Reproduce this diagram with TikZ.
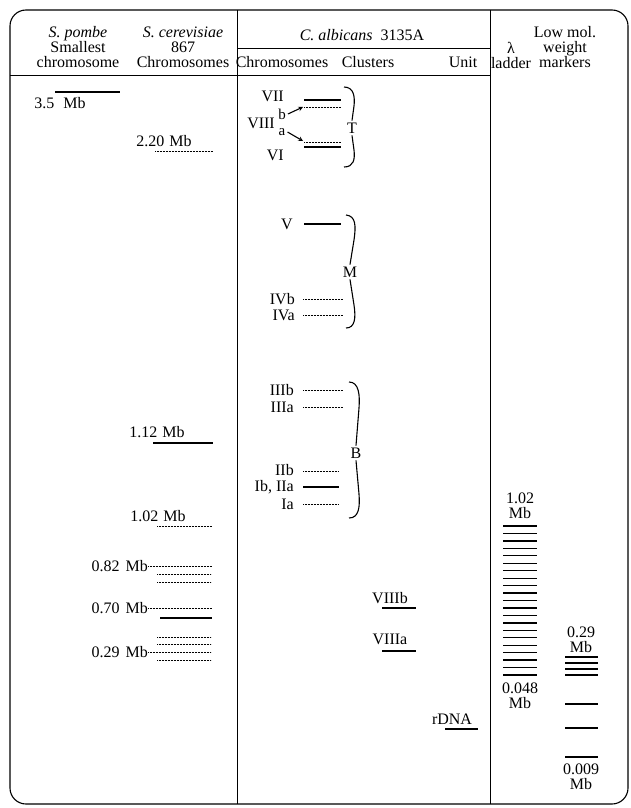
\documentclass[tikz,border=0pt]{standalone}
\usepackage{fontspec}
\setmainfont{Liberation Serif}
\usepackage{tikz}
\usetikzlibrary{arrows,positioning,calc}

\begin{document}
\begin{tikzpicture}[
        x=1pt, y=-1pt,
        lbl/.style={inner sep=0pt, font=\fontsize{16}{15}\selectfont},
        head/.style={lbl, align=center},
        small/.style={inner sep=0pt, font=\fontsize{15}{15}\selectfont},
        letter/.style={lbl, inner sep=2pt},
        frame/.style={draw=black, line width=1.1pt, rounded corners=16pt},
        rule/.style={line width=0.9pt},
        solidband/.style={line width=1.3pt},
        dotband/.style={line width=0.9pt, dash pattern=on 0.7pt off 0.8pt},
        brace/.style={line width=1.1pt},
        arrow/.style={->, line width=1.1pt, >=stealth}
    ]
    \useasboundingbox (0,0) rectangle (631,808);
    \draw[frame] (10,10) rectangle (628,804);

    % column rules
    \draw[rule] (237,10) -- (237,804);
    \draw[rule] (490,10) -- (490,804);
    \draw[rule] (10,75) -- (490,75);
    \draw[rule] (237,48) -- (490,48);

    % headings
    \node[head] (pombe) at (78,47) {\textit{S.~pombe}\\Smallest\\chromosome};
    \node[head] (cerev) at (183,47) {\textit{S.~cerevisiae}\\867\\Chromosomes};
    \node[lbl] (albic) at (362,35) {\textit{C.~albicans}~~3135A};
    \node[lbl] (chrom) at (282,62) {Chromosomes};
    \node[lbl] (clust) at (368,62) {Clusters};
    \node[lbl] (unit) at (463,62) {Unit};
    \node[head] (lambda) at (511,55) {λ\\ladder};
    \node[head] (lowmol) at (565,47) {Low mol.\\weight\\markers};

    % S. pombe
    \node[lbl] (p35) at (60,103) {3.5\hspace{9pt}Mb};
    \draw[solidband] (55,92) -- (120,92);

    % S. cerevisiae
    \node[lbl] (c220) at (164,141) {2.20\hspace{5pt}Mb};
    \draw[dotband] (155,151) -- (213,151);
    \node[lbl] (c112) at (157,432) {1.12\hspace{5pt}Mb};
    \draw[solidband] (153,443) -- (213,443);
    \node[lbl] (c102) at (158,516) {1.02\hspace{5pt}Mb};
    \draw[dotband] (157,526) -- (212,526);
    \node[lbl, anchor=east] (c082) at (148,566) {0.82\hspace{6pt}Mb};
    \draw[dotband] (c082.east) -- (212,566);
    \draw[dotband] (157,574) -- (211,574);
    \draw[dotband] (157,582) -- (211,582);
    \node[lbl, anchor=east] (c070) at (148,608) {0.70\hspace{6pt}Mb};
    \draw[dotband] (c070.east) -- (212,608);
    \draw[solidband] (160,618) -- (212,618);
    \node[lbl, anchor=east] (c029) at (148,652) {0.29\hspace{6pt}Mb};
    \draw[dotband] (157,637) -- (211,637);
    \draw[dotband] (157,644) -- (211,644);
    \draw[dotband] (c029.east) -- (211,652);
    \draw[dotband] (157,660) -- (211,660);

    % C. albicans chromosomes
    \node[lbl, anchor=east] (vii) at (284,96) {VII};
    \draw[solidband] (304,100) -- (341,100);
    \draw[dotband] (304,107) -- (341,107);
    \node[lbl, anchor=east] (viii) at (275,123) {VIII};
    \node[small] (supb) at (282,114) {b};
    \node[small] (supa) at (282,132) {a};
    \coordinate (tipb) at (303,107);
    \coordinate (tipa) at (303,141);
    \draw[arrow] (supb.east) ++(2,0) -- (tipb);
    \draw[arrow] (supa.east) ++(2,0) -- (tipa);
    \draw[dotband] (304,142) -- (341,142);
    \draw[solidband] (304,147) -- (341,147);
    \node[lbl, anchor=east] (vi) at (284,155) {VI};
    \node[letter] (T) at (352,128) {T};
    \draw[brace] (344,87) .. controls (354,87) and (355,97) .. (354,106) -- (T.north);
    \draw[brace] (T.south) -- (354,150) .. controls (355,159) and (354,167) .. (344,167);

    \node[lbl, anchor=east] (v) at (293,224) {V};
    \draw[solidband] (304,224) -- (341,224);
    \node[lbl, anchor=east] (ivb) at (295,299) {IVb};
    \draw[dotband] (303,299) -- (343,299);
    \node[lbl, anchor=east] (iva) at (295,315) {IVa};
    \draw[dotband] (303,315) -- (343,315);
    \node[letter] (M) at (350,272) {M};
    \draw[brace] (346,215) .. controls (356,216) and (356,226) .. (354,240) -- (M.north);
    \draw[brace] (M.south) -- (354,305) .. controls (356,318) and (355,328) .. (346,328);

    \node[lbl, anchor=east] (iiib) at (294,390) {IIIb};
    \draw[dotband] (303,390) -- (343,390);
    \node[lbl, anchor=east] (iiia) at (294,407) {IIIa};
    \draw[dotband] (303,407) -- (343,407);
    \node[lbl, anchor=east] (iib) at (294,470) {IIb};
    \draw[dotband] (303,471) -- (338,471);
    \node[lbl, anchor=east] (ibiia) at (294,487) {Ib, IIa};
    \draw[solidband] (303,487) -- (339,487);
    \node[lbl, anchor=east] (ia) at (294,504) {Ia};
    \draw[dotband] (303,504) -- (338,504);
    \node[letter] (B) at (356,453) {B};
    \draw[brace] (349,382) .. controls (359,382) and (360,395) .. (359,408) -- (B.north);
    \draw[brace] (B.south) -- (359,494) .. controls (360,507) and (359,518) .. (349,518);

    % clusters and unit
    \node[lbl] (viiib) at (390,598) {VIIIb};
    \draw[solidband] (382,608) -- (416,608);
    \node[lbl] (viiia) at (390,639) {VIIIa};
    \draw[solidband] (382,651) -- (416,651);
    \node[lbl] (rdna) at (452,719) {rDNA};
    \draw[solidband] (445,729) -- (478,729);

    % lambda ladder
    \node[head] (ltop) at (520,506) {1.02\\Mb};
    \foreach \i in {0,...,20}
        \draw[solidband] (503,526+7.45*\i) -- (537,526+7.45*\i);
    \node[head] (lbot) at (520,696) {0.048\\Mb};

    % low molecular weight markers
    \node[head] (mtop) at (581,640) {0.29\\Mb};
    \foreach \y in {657,663,669,675,704,728,757}
        \draw[solidband] (565,\y) -- (598,\y);
    \node[head] (mbot) at (581,777) {0.009\\Mb};
\end{tikzpicture}
\end{document}
